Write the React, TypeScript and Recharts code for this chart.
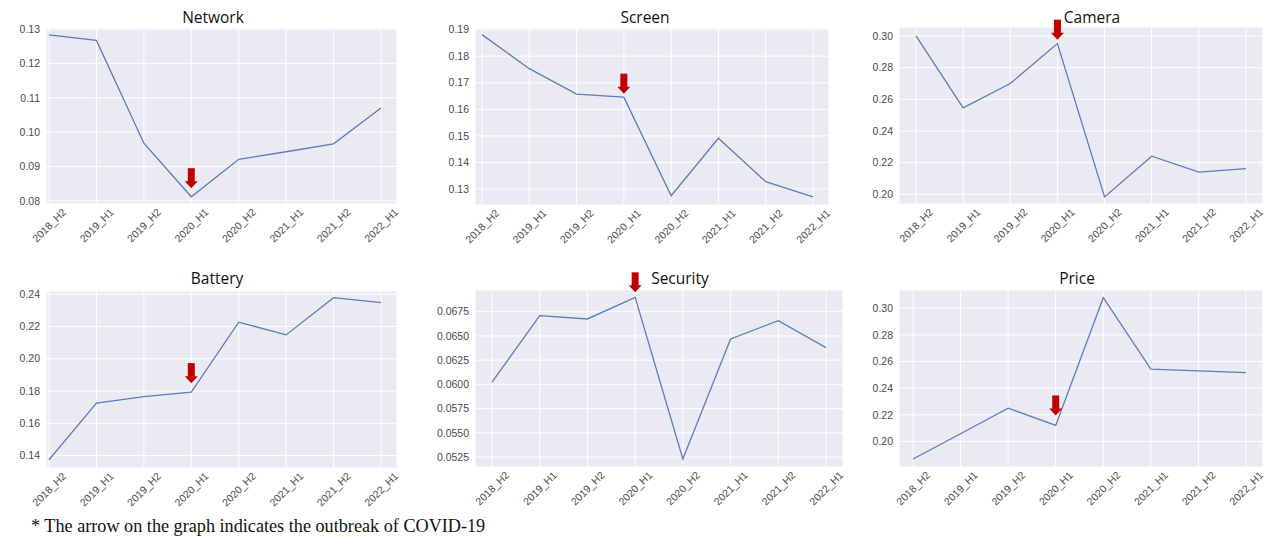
import React from 'react';
import { LineChart, Line, XAxis, YAxis, CartesianGrid, ReferenceDot } from 'recharts';

const categories = ['2018_H2', '2019_H1', '2019_H2', '2020_H1', '2020_H2', '2021_H1', '2021_H2', '2022_H1'];

const network = [0.1283, 0.1267, 0.0968, 0.0812, 0.0921, 0.0943, 0.0966, 0.107];
const screen = [0.1881, 0.1753, 0.1657, 0.1646, 0.1275, 0.1491, 0.1328, 0.1271];
const camera = [0.3001, 0.2546, 0.27, 0.2952, 0.1984, 0.2241, 0.214, 0.2163];
const battery = [0.1374, 0.1725, 0.1766, 0.1793, 0.2227, 0.2148, 0.2379, 0.2348];
const security = [0.06023, 0.06709, 0.06675, 0.06898, 0.0523, 0.06469, 0.06657, 0.06379];
const price = [0.1868, 0.2058, 0.225, 0.212, 0.3079, 0.2543, 0.253, 0.2517];

const networkTicks = [0.08, 0.09, 0.1, 0.11, 0.12, 0.13];
const screenTicks = [0.13, 0.14, 0.15, 0.16, 0.17, 0.18, 0.19];
const cameraTicks = [0.2, 0.22, 0.24, 0.26, 0.28, 0.3];
const batteryTicks = [0.14, 0.16, 0.18, 0.2, 0.22, 0.24];
const securityTicks = [0.0525, 0.055, 0.0575, 0.06, 0.0625, 0.065, 0.0675];
const priceTicks = [0.2, 0.22, 0.24, 0.26, 0.28, 0.3];

// where the covid arrow tip sits (value units), always at 2020_H1
const covidCategory = '2020_H1';
const arrowTips = { network: 0.0837, screen: 0.1659, camera: 0.2977, battery: 0.1849, security: 0.0695, price: 0.2195 };

const footnote = '* The arrow on the graph indicates the outbreak of COVID-19';

const BG = '#EAEAF2';
const LINE = '#5b7cc0';
const ARROW = '#c00000';
const TICK_FONT = '"Liberation Sans", Arial, sans-serif';
const TICK_SIZE = 10.5;
const TICK_COLOR = '#4a4a4a';

const Arrow = (props: any) => {
    const { cx, cy } = props;
    if (cx == null || cy == null) return null;
    return (
        <g>
            <rect x={cx - 3.5} y={cy - 20} width={7} height={14} fill={ARROW} />
            <polygon points={`${cx - 6.5},${cy - 7} ${cx + 6.5},${cy - 7} ${cx},${cy}`} fill={ARROW} />
        </g>
    );
};

const XTick = (props: any) => {
    const { x, y, payload } = props;
    return (
        <text
            transform={`translate(${x},${y + 21}) rotate(-45)`}
            textAnchor="middle"
            dominantBaseline="central"
            fontSize={TICK_SIZE}
            fontFamily={TICK_FONT}
            fill={TICK_COLOR}
        >
            {payload.value}
        </text>
    );
};

interface PanelProps {
    values: number[];
    ticks: number[];
    domain: [number, number];
    tip: number;
    decimals: number;
    plot: { x: number; y: number; w: number; h: number };
    pad: { left: number; right: number };
}

function Panel({ values, ticks, domain, tip, decimals, plot, pad }: PanelProps) {
    const rows = categories.map((c, i) => ({ cat: c, v: values[i] }));
    const top = 25;
    const yw = 50;
    const xh = 45;
    return (
        <div style={{ position: 'absolute', left: plot.x - yw, top: plot.y - top }}>
            <LineChart
                width={plot.w + yw + 5}
                height={plot.h + top + xh}
                data={rows}
                margin={{ top, right: 5, bottom: 0, left: 0 }}
            >
                <CartesianGrid fill={BG} stroke="#ffffff" strokeWidth={1} />
                <XAxis
                    dataKey="cat"
                    interval={0}
                    axisLine={false}
                    tickLine={false}
                    tickSize={0}
                    tickMargin={0}
                    height={xh}
                    padding={pad}
                    tick={<XTick />}
                />
                <YAxis
                    type="number"
                    domain={domain}
                    ticks={ticks}
                    allowDataOverflow
                    axisLine={false}
                    tickLine={false}
                    tickSize={0}
                    tickMargin={6}
                    width={yw}
                    tickFormatter={(v: number) => v.toFixed(decimals)}
                    tick={{ fontSize: TICK_SIZE, fontFamily: TICK_FONT, fill: TICK_COLOR }}
                />
                <Line
                    type="linear"
                    dataKey="v"
                    stroke={LINE}
                    strokeWidth={1.3}
                    dot={false}
                    activeDot={false}
                    isAnimationActive={false}
                />
                <ReferenceDot x={covidCategory} y={tip} ifOverflow="visible" shape={<Arrow />} />
            </LineChart>
        </div>
    );
}

const titleStyle = { fontFamily: '"Open Sans", "Noto Sans", sans-serif', fontSize: 15.5, fill: '#111' };

export default function App() {
    return (
        <div style={{ position: 'absolute', left: 0, top: 0, width: 1269, height: 537, background: '#fff', overflow: 'hidden' }}>
            <Panel values={network} ticks={networkTicks} domain={[0.0791, 0.1303]} tip={arrowTips.network} decimals={2}
                plot={{ x: 46, y: 28, w: 351, h: 176 }} pad={{ left: 3, right: 16 }} />
            <Panel values={screen} ticks={screenTicks} domain={[0.124, 0.1906]} tip={arrowTips.screen} decimals={2}
                plot={{ x: 475, y: 28, w: 354, h: 177 }} pad={{ left: 7, right: 16 }} />
            <Panel values={camera} ticks={cameraTicks} domain={[0.1939, 0.3057]} tip={arrowTips.camera} decimals={2}
                plot={{ x: 899, y: 27, w: 364, h: 177 }} pad={{ left: 17, right: 17 }} />
            <Panel values={battery} ticks={batteryTicks} domain={[0.1323, 0.242]} tip={arrowTips.battery} decimals={2}
                plot={{ x: 46, y: 291, w: 351, h: 177 }} pad={{ left: 3, right: 16 }} />
            <Panel values={security} ticks={securityTicks} domain={[0.05147, 0.06974]} tip={arrowTips.security} decimals={4}
                plot={{ x: 475, y: 290, w: 368, h: 177 }} pad={{ left: 17, right: 17 }} />
            <Panel values={price} ticks={priceTicks} domain={[0.1808, 0.3137]} tip={arrowTips.price} decimals={2}
                plot={{ x: 899, y: 290, w: 364, h: 177 }} pad={{ left: 14, right: 17 }} />

            <svg width={1269} height={537} style={{ position: 'absolute', left: 0, top: 0, pointerEvents: 'none' }}>
                <text x={213} y={22.5} textAnchor="middle" {...titleStyle}>Network</text>
                <text x={645} y={23} textAnchor="middle" {...titleStyle}>Screen</text>
                <text x={1092} y={22.5} textAnchor="middle" {...titleStyle}>Camera</text>
                <text x={217} y={284} textAnchor="middle" {...titleStyle}>Battery</text>
                <text x={680} y={284} textAnchor="middle" {...titleStyle}>Security</text>
                <text x={1077} y={284} textAnchor="middle" {...titleStyle}>Price</text>
                <text x={31} y={531.5} fontFamily='"Liberation Serif", "Times New Roman", serif' fontSize={18.2} fill="#111">
                    {footnote}
                </text>
            </svg>
        </div>
    );
}
